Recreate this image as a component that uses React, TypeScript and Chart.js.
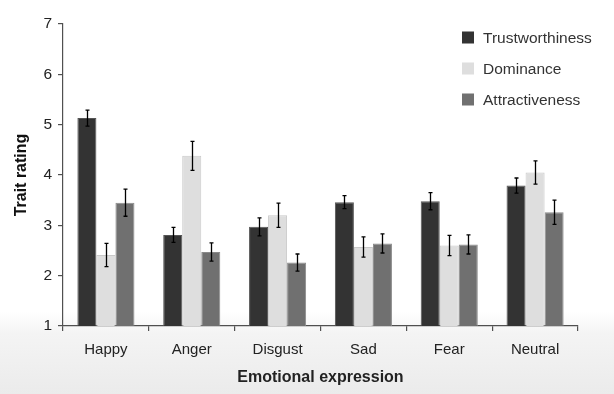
import React, { useEffect, useRef } from "react";
import { Chart, registerables } from "chart.js";

Chart.register(...registerables);

const categories = ["Happy", "Anger", "Disgust", "Sad", "Fear", "Neutral"];
const seriesNames = ["Trustworthiness", "Dominance", "Attractiveness"];
const trustworthiness = [5.13, 2.81, 2.97, 3.46, 3.48, 3.79];
const dominance = [2.41, 4.38, 3.2, 2.57, 2.6, 4.05];
const attractiveness = [3.45, 2.47, 2.26, 2.64, 2.62, 3.26];
const trustErr = [0.16, 0.15, 0.18, 0.13, 0.17, 0.15];
const domErr = [0.23, 0.29, 0.24, 0.2, 0.2, 0.23];
const attrErr = [0.27, 0.18, 0.17, 0.19, 0.19, 0.24];
const yTicks = [1, 2, 3, 4, 5, 6, 7];

const fills = ["#333333", "#dedede", "#707070"];
const edges = ["#555555", "#c9c9c9", "#8a8a8a"];
const FONT = "'Liberation Sans', Arial, sans-serif";

const errorBarPlugin = {
  id: "errorBars",
  afterDatasetsDraw(chart: any) {
    const ctx = chart.ctx;
    const y = chart.scales.y;
    ctx.save();
    ctx.strokeStyle = "#000000";
    ctx.lineWidth = 1.3;
    chart.data.datasets.forEach((ds: any, i: number) => {
      const meta = chart.getDatasetMeta(i);
      meta.data.forEach((bar: any, j: number) => {
        const v = ds.data[j];
        const e = ds.errors[j];
        const top = y.getPixelForValue(v + e);
        const bot = y.getPixelForValue(v - e);
        const x = Math.round(bar.x) + 0.5;
        ctx.beginPath();
        ctx.moveTo(x, top);
        ctx.lineTo(x, bot);
        ctx.moveTo(x - 2, top);
        ctx.lineTo(x + 2, top);
        ctx.moveTo(x - 2, bot);
        ctx.lineTo(x + 2, bot);
        ctx.stroke();
      });
    });
    ctx.restore();
  },
};

const legendPlugin = {
  id: "customLegend",
  afterDraw(chart: any) {
    const ctx = chart.ctx;
    ctx.save();
    const rows = [37.5, 68.5, 99.5];
    ctx.font = `15.5px ${FONT}`;
    ctx.textBaseline = "middle";
    ctx.textAlign = "left";
    chart.data.datasets.forEach((ds: any, i: number) => {
      const cy = rows[i];
      ctx.fillStyle = fills[i];
      ctx.fillRect(462, cy - 6, 12, 12);
      ctx.fillStyle = "#333333";
      ctx.fillText(ds.label, 483, cy + 1);
    });
    ctx.restore();
  },
};

export default function App() {
  const ref = useRef<HTMLCanvasElement>(null);
  useEffect(() => {
    const values = [trustworthiness, dominance, attractiveness];
    const errs = [trustErr, domErr, attrErr];
    const chart = new Chart(ref.current as HTMLCanvasElement, {
      type: "bar",
      data: {
        labels: categories,
        datasets: seriesNames.map((name, i) => ({
          label: name,
          data: values[i],
          errors: errs[i],
          backgroundColor: fills[i],
          borderColor: edges[i],
          borderWidth: 1,
          categoryPercentage: 0.665,
          barPercentage: 1.0,
        })) as any,
      },
      options: {
        animation: false,
        responsive: false,
        maintainAspectRatio: false,
        layout: { padding: { top: 24, right: 36, bottom: 0, left: 0 } },
        plugins: {
          legend: { display: false },
          tooltip: { enabled: false },
        },
        scales: {
          x: {
            offset: true,
            grid: {
              display: true,
              offset: true,
              drawOnChartArea: false,
              drawTicks: true,
              tickLength: 5,
              color: "#505050",
              lineWidth: 1.2,
            },
            border: { display: true, color: "#505050", width: 1.2 },
            ticks: {
              color: "#222222",
              font: { family: FONT, size: 15 },
              padding: 10,
              maxRotation: 0,
            },
            title: {
              display: true,
              text: "Emotional expression",
              color: "#222222",
              font: { family: FONT, size: 16, weight: "bold" },
              padding: { top: 0, bottom: 7 },
            },
            afterFit(scale: any) {
              scale.height = 68;
            },
          },
          y: {
            min: 1,
            max: 7,
            afterBuildTicks(scale: any) {
              scale.ticks = yTicks.map((v) => ({ value: v }));
            },
            grid: {
              display: true,
              drawOnChartArea: false,
              drawTicks: true,
              tickLength: 5,
              color: "#505050",
              lineWidth: 1.2,
            },
            border: { display: true, color: "#505050", width: 1.2 },
            ticks: {
              color: "#222222",
              font: { family: FONT, size: 15.5 },
              padding: 6,
            },
            title: {
              display: true,
              text: "Trait rating",
              color: "#111111",
              font: { family: FONT, size: 16, weight: "bold" },
              padding: { top: 12, bottom: 0 },
            },
            afterFit(scale: any) {
              scale.width = 63;
            },
          },
        },
      },
      plugins: [errorBarPlugin, legendPlugin],
    } as any);
    return () => chart.destroy();
  }, []);

  return (
    <div
      style={{
        position: "fixed",
        left: 0,
        top: 0,
        width: 614,
        height: 394,
        background:
          "linear-gradient(to bottom, #ffffff 0px, #ffffff 312px, #f4f4f4 334px, #ebebeb 394px)",
      }}
    >
      <canvas ref={ref} width={614} height={394} style={{ display: "block" }} />
    </div>
  );
}
